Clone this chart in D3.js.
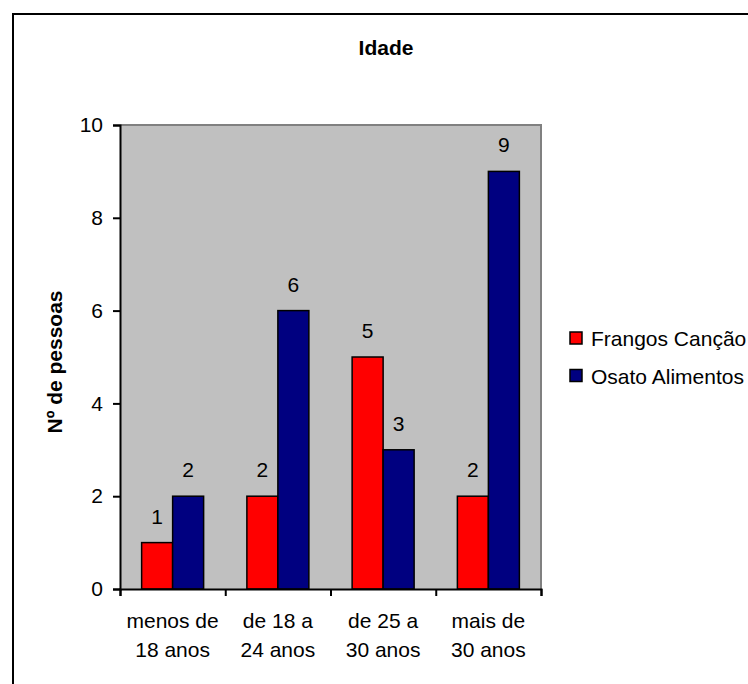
<!DOCTYPE html>
<html><head><meta charset="utf-8">
<script src="https://cdn.jsdelivr.net/npm/d3@7"></script>
<style>body{margin:0;background:#fff;} svg{display:block;font-family:"Liberation Sans",Arial,sans-serif;}</style>
</head><body>
<svg id="c" width="748" height="684"></svg>
<script>
const categories = [["menos de","18 anos"],["de 18 a","24 anos"],["de 25 a","30 anos"],["mais de","30 anos"]];
const seriesNames = ["Frangos Canção","Osato Alimentos"];
const frangos = [1,2,5,2];
const osato = [2,6,3,9];
const yTicks = [0,2,4,6,8,10];
const colors = ["#FF0000","#000080"];

const FS = 21;
const svg = d3.select("#c");
// outer border
svg.append("rect").attr("x",13).attr("y",14).attr("width",760).attr("height",700)
  .attr("fill","none").attr("stroke","#000").attr("stroke-width",2);

const L=120,R=541,T=125,B=589;
const x = d3.scaleBand().domain(d3.range(categories.length)).range([L,R]).paddingInner(0).paddingOuter(0);
const y = d3.scaleLinear().domain([0,10]).range([B,T]);
const barW = 31;

svg.append("rect").attr("x",L).attr("y",T).attr("width",R-L).attr("height",B-T)
  .attr("fill","#C0C0C0");
svg.append("path").attr("d",`M${L},${T}H${R}V${B}`).attr("fill","none").attr("stroke","#808080").attr("stroke-width",2);

const data = [frangos, osato];
data.forEach((vals,si)=>{
  vals.forEach((v,i)=>{
    const cx = x(i)+x.bandwidth()/2;
    const bx = cx - barW + si*barW;
    svg.append("rect").attr("x",bx).attr("y",y(v)).attr("width",barW).attr("height",B-y(v))
      .attr("fill",colors[si]).attr("stroke","#000").attr("stroke-width",1.5);
    svg.append("text").attr("x",bx+barW/2).attr("y",y(v)-19).attr("text-anchor","middle")
      .attr("font-size",FS).text(v);
  });
});

// y axis
const ya = svg.append("g").attr("transform",`translate(${L},0)`)
  .call(d3.axisLeft(y).tickValues(yTicks).tickSize(7).tickPadding(10));
ya.selectAll("path").attr("stroke","#000").attr("stroke-width",2);
ya.selectAll("line").attr("stroke","#000").attr("stroke-width",2);
ya.selectAll("text").attr("font-size",FS).attr("font-family","Liberation Sans, Arial, sans-serif").attr("fill","#000");

// x axis
const xa = svg.append("g").attr("transform",`translate(0,${B})`)
  .call(d3.axisBottom(d3.scaleLinear().domain([0,4]).range([L,R])).tickValues([0,1,2,3,4]).tickSize(7).tickFormat(""));
xa.selectAll("path").attr("stroke","#000").attr("stroke-width",2);
xa.selectAll("line").attr("stroke","#000").attr("stroke-width",2);

categories.forEach((c,i)=>{
  const cx = x(i)+x.bandwidth()/2;
  const t = svg.append("text").attr("text-anchor","middle").attr("font-size",FS);
  c.forEach((line,j)=>t.append("tspan").attr("x",cx).attr("y",628+j*29).text(line));
});

// title
svg.append("text").attr("x",386).attr("y",55).attr("text-anchor","middle").attr("font-size",FS)
  .attr("font-weight","bold").text("Idade");
// y title
svg.append("text").attr("transform",`translate(62,362) rotate(-90)`).attr("text-anchor","middle")
  .attr("font-size",FS).attr("font-weight","bold").text("Nº de pessoas");

// legend
seriesNames.forEach((n,i)=>{
  const ly = 332 + i*37.5;
  svg.append("rect").attr("x",570).attr("y",ly).attr("width",12).attr("height",12)
    .attr("fill",colors[i]).attr("stroke","#000").attr("stroke-width",1.5);
  svg.append("text").attr("x",591).attr("y",ly+14).attr("font-size",FS).text(n);
});
</script>
</body></html>
